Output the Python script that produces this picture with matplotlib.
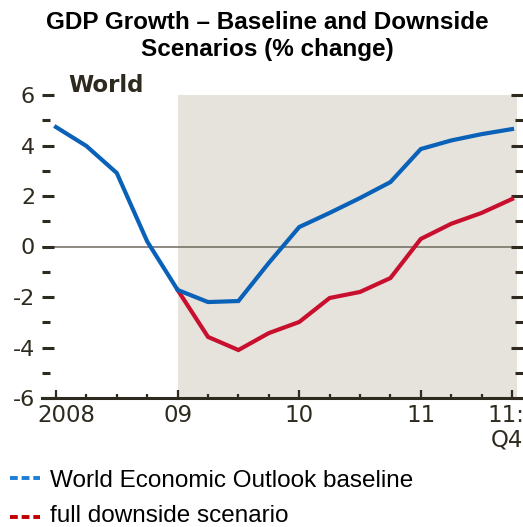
import numpy as np
import matplotlib
matplotlib.use('Agg')
import matplotlib.pyplot as plt
from matplotlib.lines import Line2D
from matplotlib.ticker import MultipleLocator

# quarters from 2008Q1 (0) to 2011Q4 (15)
quarters = np.arange(16)
baseline = [4.73, 3.98, 2.91, 0.20, -1.72, -2.20, -2.16, -0.65,
            0.77, 1.33, 1.92, 2.55, 3.86, 4.20, 4.45, 4.65]
down_q = np.arange(4, 16)
downside = [-1.72, -3.58, -4.10, -3.43, -2.99, -2.04, -1.80, -1.25,
            0.30, 0.90, 1.33, 1.88]
xlabel_pos = [0, 4, 8, 12]
xlabel_txt = ['2008', '09', '10', '11']
ytick_vals = [-6, -4, -2, 0, 2, 4, 6]
ytick_txt = ['-6', '-4', '-2', '0', '2', '4', '6']
legend_txt = ['World Economic Outlook baseline', 'full downside scenario']

W, H = 523, 527
brown = '#2e2a1f'
blue = '#0a62b8'
red = '#c8102e'

fig = plt.figure(figsize=(W/100, H/100), dpi=100)
ax = fig.add_axes([42/W, (H-398)/H, (W-42)/W, (398-95)/H])
ax.set_xlim(-14/30.4, (W-56)/30.4)
ax.set_ylim(-6, 6)

ax.axvspan(4, (517-56)/30.4, color='#e6e2dc', lw=0, zorder=0)
ax.axhline(0, color='#6e6a60', lw=1.1, zorder=1)
ax.plot(quarters, baseline, color=blue, lw=3, zorder=3, solid_joinstyle='miter')
ax.plot(down_q, downside, color=red, lw=3, zorder=2, solid_joinstyle='miter')

for s in ['top', 'left', 'right']:
    ax.spines[s].set_visible(False)
ax.spines['bottom'].set_color(brown)
ax.spines['bottom'].set_linewidth(2.2)

ax.set_xticks(xlabel_pos + [15])
ax.xaxis.set_minor_locator(MultipleLocator(1))
ax.set_xticklabels([])
ax.tick_params(axis='x', which='major', direction='in', length=5.5, width=1.6, color=brown)
ax.tick_params(axis='x', which='minor', direction='in', length=3, width=1.6, color=brown)

ax.set_yticks(ytick_vals)
ax.set_yticklabels(ytick_txt)
ax.yaxis.set_minor_locator(MultipleLocator(1))
ax.tick_params(axis='y', which='both', direction='in', left=True, right=True,
               width=2.2, color=brown, labelcolor=brown, labelsize=16, pad=5)
ax.tick_params(axis='y', which='major', length=8.5)
ax.tick_params(axis='y', which='minor', length=5.5)

# x labels
offs = {0: 10}
for p, t in zip(xlabel_pos, xlabel_txt):
    xp = 56 + 30.4*p + offs.get(p, 0)
    fig.text(xp/W, (H-416)/H, t, ha='center', va='center', fontsize=16.5, color=brown)
fig.text(524/W, (H-416)/H, '11:', ha='right', va='center', fontsize=16.5, color=brown)
fig.text(523/W, (H-440)/H, 'Q4', ha='right', va='center', fontsize=16.5, color=brown)

fig.text(68/W, (H-92)/H, 'World', ha='left', va='baseline', fontsize=16.5,
         fontweight='bold', color=brown)

fig.text(267/W, (H-29)/H, 'GDP Growth \u2013 Baseline and Downside', ha='center',
         va='baseline', fontsize=17.5, fontweight='bold', family='Liberation Sans')
fig.text(267/W, (H-56)/H, 'Scenarios (% change)', ha='center',
         va='baseline', fontsize=17.5, fontweight='bold', family='Liberation Sans')

for i, (t, c) in enumerate(zip(legend_txt, ['#1a7fd4', '#c00000'])):
    yb = 487 + 35*i
    ym = 478 + 39*i
    fig.add_artist(Line2D([10/W, 40/W], [(H-ym)/H, (H-ym)/H], color=c, lw=2.8,
                          dashes=(2.0, 1.0), transform=fig.transFigure))
    fig.text(50/W, (H-yb)/H, t, ha='left', va='baseline', fontsize=17.5,
             family='Liberation Sans', color='black')

plt.savefig('out.png', dpi=100)
